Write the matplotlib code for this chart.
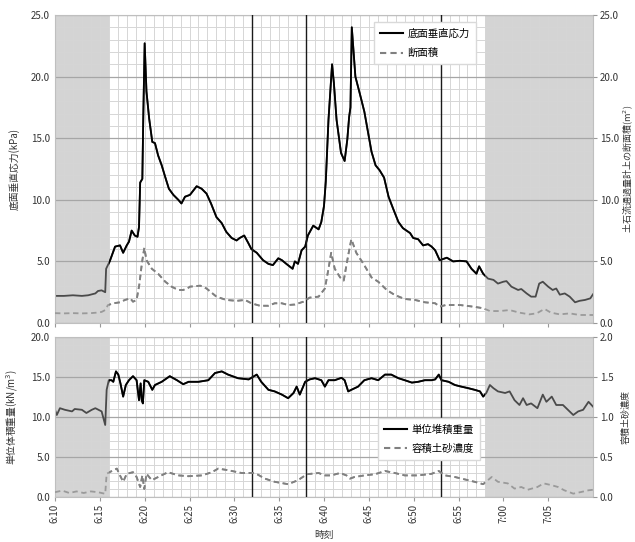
import numpy as np
import matplotlib
matplotlib.use("Agg")
import matplotlib.pyplot as plt
from matplotlib.patches import Rectangle
from matplotlib.lines import Line2D

plt.rcParams['font.family'] = ['Noto Sans CJK JP', 'DejaVu Sans']

# ---- data (time in minutes after 6:10) ----
stress_t = [0, 1, 2, 3, 3.7, 4.5, 4.8, 5.2, 5.6, 5.7, 6.1, 6.7, 7.25, 7.6, 8.0, 8.25, 8.55, 8.9, 9.2,
            9.37, 9.5, 9.74, 9.85, 10.0, 10.2, 10.5, 10.85, 11.15, 11.5, 11.9, 12.27, 12.7, 13.2, 13.75,
            14.1, 14.5, 15.05, 15.8, 16.35, 16.9, 17.4, 18.0, 18.6, 19.1, 19.7, 20.25, 20.6, 21.1, 21.55,
            21.9, 22.5, 23.2, 23.8, 24.3, 24.9, 25.3, 25.8, 26.5, 26.75, 27.1, 27.5, 27.9, 28.2, 28.8,
            29.4, 29.7, 30.0, 30.2, 30.5, 30.9, 31.1, 31.4, 31.9, 32.3, 32.6, 32.8, 32.95, 33.1, 33.5,
            34.0, 34.5, 34.9, 35.3, 35.75, 36.2, 36.7, 37.2, 37.7, 38.3, 38.8, 39.6, 39.95, 40.5, 41.05,
            41.6, 42.0, 42.4, 42.9, 43.7, 44.4, 45.15, 45.9, 46.45, 47.0, 47.3, 47.75, 48.3, 48.9, 49.4,
            50.0, 50.35, 50.9, 51.65, 52.0, 52.6, 53.1, 53.6, 54.0, 54.4, 55.0, 55.5, 55.9, 56.3, 56.85,
            57.4, 58.0, 58.5, 59.1, 59.7, 60.0]
stress_v = [2.2, 2.2, 2.25, 2.2, 2.25, 2.4, 2.6, 2.65, 2.5, 4.4, 5.0, 6.2, 6.3, 5.7, 6.3, 6.6, 7.5, 7.1, 7.0,
            7.8, 11.4, 11.7, 16.9, 22.7, 18.8, 16.6, 14.7, 14.6, 13.6, 12.8, 11.9, 10.9, 10.4, 10.0,
            9.7, 10.25, 10.4, 11.1, 10.9, 10.5, 9.7, 8.6, 8.1, 7.4, 6.9, 6.7, 6.9, 7.1, 6.5,
            6.0, 5.7, 5.1, 4.8, 4.7, 5.25, 5.1, 4.8, 4.4, 5.0, 4.8, 5.9, 6.2, 7.1, 7.9,
            7.6, 8.2, 9.5, 11.5, 16.5, 21.0, 19.5, 16.5, 13.8, 13.15, 14.9, 16.7, 17.5, 24.0, 20.0,
            18.6, 17.15, 15.5, 13.9, 12.8, 12.4, 11.8, 10.25, 9.3, 8.2, 7.7, 7.3, 6.9, 6.8, 6.3,
            6.4, 6.2, 5.9, 5.1, 5.3, 5.0, 5.05, 5.0, 4.4, 4.0, 4.6, 4.0, 3.6, 3.5, 3.2,
            3.35, 3.4, 2.95, 2.68, 2.76, 2.4, 2.14, 2.14, 3.2, 3.35, 2.95, 2.68, 2.8, 2.3, 2.4,
            2.14, 1.68, 1.8, 1.87, 2.0, 2.33]

area_t = [0, 1, 2, 3, 4, 4.8, 5.2, 5.6, 5.9, 6.5, 7.25, 7.8, 8.4, 8.7, 9.1, 9.4, 9.7, 9.96, 10.2, 10.8,
          11.5, 12.3, 13.0, 13.75, 14.3, 14.9, 15.05, 16.2, 16.9, 18.0, 19.1, 20.25, 21.2, 21.9, 22.85,
          23.8, 24.5, 25.3, 26.0, 26.75, 27.7, 28.4, 29.4, 30.1, 30.5, 30.8, 31.2, 31.8, 32.2, 32.7,
          33.05, 33.6, 34.4, 35.3, 36.05, 37.0, 37.9, 39.0, 40.15, 41.25, 42.4, 42.9, 43.6, 44.6, 45.15,
          46.6, 47.75, 48.5, 49.6, 50.7, 51.8, 52.9, 53.7, 54.6, 55.3, 56.3, 57.4, 58.5, 60.0]
area_v = [0.8, 0.78, 0.8, 0.78, 0.8, 0.85, 0.9, 1.05, 1.45, 1.6, 1.68, 1.87, 2.0, 1.73, 1.87, 3.1, 4.9, 6.1,
          5.1, 4.4, 4.0, 3.35, 2.95, 2.68, 2.68, 2.87, 2.95, 3.03, 2.8, 2.14, 1.87, 1.8, 1.87, 1.6, 1.4,
          1.4, 1.6, 1.6, 1.46, 1.5, 1.73, 2.06, 2.14, 2.8, 4.4, 5.7, 4.4, 3.7, 3.45, 5.5,
          6.8, 5.7, 4.8, 3.7, 3.35, 2.68, 2.27, 1.95, 1.87, 1.68, 1.6, 1.33, 1.46, 1.46, 1.46,
          1.33, 1.2, 0.97, 0.97, 1.05, 0.84, 0.7, 0.78, 1.14, 0.84, 0.7, 0.78, 0.65, 0.65]

weight_t = [0, 0.2, 0.55, 1.1, 1.9, 2.2, 3.0, 3.5, 4.1, 4.5, 5.2, 5.6, 5.76, 6.0, 6.3, 6.5, 6.8, 7.06,
            7.3, 7.6, 7.9, 8.25, 8.7, 9.1, 9.37, 9.55, 9.67, 9.8, 9.96, 10.4, 10.85, 11.15, 11.9, 12.8,
            13.6, 14.3, 14.9, 16.0, 17.1, 17.85, 18.6, 19.3, 20.4, 21.6, 22.5, 23.0, 23.8, 24.5, 25.3,
            26.0, 26.6, 26.95, 27.3, 27.9, 28.4, 29.0, 29.7, 30.1, 30.5, 31.2, 31.95, 32.3, 32.7, 33.05,
            33.8, 34.5, 35.3, 36.05, 36.8, 37.5, 38.3, 39.0, 39.8, 40.5, 41.25, 42.0, 42.4, 42.8, 43.1,
            43.9, 44.6, 45.3, 46.1, 46.8, 47.4, 47.75, 48.1, 48.5, 48.9, 49.4, 50.2, 50.7, 51.25, 51.8,
            52.2, 52.6, 53.1, 53.8, 54.4, 54.8, 55.4, 55.9, 56.65, 57.2, 57.8, 58.35, 58.9, 59.5, 60.0]
weight_v = [10.9, 10.25, 11.1, 10.9, 10.7, 11.0, 10.9, 10.5, 10.9, 11.1, 10.7, 9.0, 13.4, 14.6, 14.6, 14.4,
            15.7, 15.3, 14.2, 12.55, 14.0, 14.6, 15.1, 14.6, 12.1, 14.2, 12.1, 11.7, 14.6, 14.4, 13.4,
            14.0, 14.4, 15.1, 14.6, 14.1, 14.4, 14.4, 14.6, 15.5, 15.7, 15.3, 14.85, 14.7, 15.3, 14.4,
            13.4, 13.2, 12.8, 12.35, 13.0, 13.8, 12.8, 14.4, 14.7, 14.85, 14.6, 13.8, 14.6, 14.6, 14.9,
            14.6, 13.2, 13.4, 13.8, 14.6, 14.85, 14.6, 15.3, 15.3, 14.85, 14.6, 14.3, 14.4, 14.6, 14.6,
            14.7, 15.3, 14.6, 14.4, 14.0, 13.8, 13.6, 13.4, 13.2, 12.55, 13.0, 14.0, 13.6, 13.2, 13.0,
            13.2, 12.1, 11.5, 12.35, 11.5, 11.7, 11.1, 12.8, 11.9, 12.55, 11.5, 11.5, 10.9, 10.25,
            10.7, 10.9, 11.9, 11.3]

conc_t = [0, 0.8, 1.6, 2.4, 3.2, 4.0, 4.8, 5.6, 5.76, 6.5, 6.9, 7.25, 7.6, 8.0, 8.7, 9.1, 9.5, 9.74,
          9.96, 10.2, 10.8, 11.5, 12.6, 13.75, 14.9, 16.4, 17.5, 18.2, 19.3, 20.8, 22.3, 23.4, 24.5,
          26.0, 27.1, 28.1, 29.4, 30.1, 30.8, 31.8, 32.5, 32.9, 33.4, 34.5, 35.7, 36.8, 37.9, 39.0,
          40.5, 42.0, 42.8, 43.5, 44.6, 45.7, 46.8, 47.75, 48.7, 49.4, 50.5, 51.25, 52.0, 52.7, 53.8,
          54.5, 55.3, 56.1, 56.8, 57.8, 58.7, 59.5, 60.0]
conc_v = [0.06, 0.08, 0.05, 0.07, 0.05, 0.07, 0.06, 0.04, 0.29, 0.335, 0.355, 0.27, 0.19, 0.29, 0.31,
          0.25, 0.125, 0.27, 0.10, 0.29, 0.21, 0.25, 0.31, 0.27, 0.26, 0.27, 0.31, 0.355, 0.335, 0.30,
          0.30, 0.23, 0.19, 0.16, 0.21, 0.285, 0.30, 0.27, 0.27, 0.30, 0.27, 0.23, 0.25, 0.27, 0.285,
          0.325, 0.30, 0.27, 0.27, 0.29, 0.325, 0.27, 0.25, 0.22, 0.19, 0.16, 0.25, 0.19, 0.17, 0.105,
          0.125, 0.09, 0.125, 0.17, 0.15, 0.125, 0.084, 0.042, 0.063, 0.084, 0.09]

x_ticks = [0, 5, 10, 15, 20, 25, 30, 35, 40, 45, 50, 55]
x_ticklabels = ["6:10", "6:15", "6:20", "6:25", "6:30", "6:35", "6:40", "6:45", "6:50", "6:55",
                "7:00", "7:05"]
event_lines = [22, 28, 43]          # 6:32, 6:38, 6:53
shade_spans = [(0, 6), (48, 60)]    # 6:10-6:16, 6:58-7:10

# ---- figure ----
W, H = 635, 542
fig = plt.figure(figsize=(W / 100, H / 100), dpi=100)
L, R = 55 / W, 593 / W
ax1 = fig.add_axes([L, (H - 323) / H, R - L, (323 - 15) / H])
ax2 = fig.add_axes([L, (H - 497) / H, R - L, (497 - 337) / H])

txt_c = '#333333'
fs = 7


def style(ax, ymax, major, minor):
    ax.set_xlim(0, 60)
    ax.set_ylim(0, ymax)
    ax.set_axisbelow(True)
    ax.set_xticks(np.arange(0, 61, 1), minor=True)
    ax.set_xticks(x_ticks)
    ax.set_yticks(np.arange(0, ymax + 1e-9, major))
    ax.set_yticks(np.arange(0, ymax + 1e-9, minor), minor=True)
    ax.grid(which='minor', color='#d6d6d6', lw=0.7)
    ax.grid(which='major', axis='x', color='#d6d6d6', lw=0.7)
    ax.grid(which='major', axis='y', color='#a6a6a6', lw=0.9)
    for s in ax.spines.values():
        s.set_color('#bfbfbf')
        s.set_linewidth(0.8)
    ax.tick_params(axis='y', which='both', length=0, labelsize=fs, labelcolor=txt_c)
    ax.tick_params(axis='x', which='minor', length=0)
    ax.tick_params(axis='x', which='major', length=3, pad=2, color='#999999', labelsize=fs,
                   labelcolor=txt_c)
    for a, b in shade_spans:
        ax.axvspan(a, b, color='#d4d4d4', zorder=0.3, lw=0)
    for v in event_lines:
        ax.axvline(v, color='#1a1a1a', lw=1.0, zorder=3)


style(ax1, 25, 5, 1)
style(ax2, 20, 5, 1)
ax1.set_yticklabels([f"{v:.1f}" for v in np.arange(0, 25.1, 5)])
ax2.set_yticklabels([f"{v:.1f}" for v in np.arange(0, 20.1, 5)])
ax1.tick_params(axis='x', labelbottom=False)
ax2.set_xticklabels(x_ticklabels, rotation=90)

t1 = ax1.twinx()
t2 = ax2.twinx()
for t, ymax, step in [(t1, 25, 5), (t2, 2.0, 0.5)]:
    t.set_ylim(0, ymax)
    t.set_yticks(np.arange(0, ymax + 1e-9, step))
    t.set_yticklabels([f"{v:.1f}" for v in np.arange(0, ymax + 1e-9, step)])
    t.tick_params(axis='y', length=3, pad=2, color='#999999', labelsize=fs, labelcolor=txt_c)
    for s in t.spines.values():
        s.set_visible(False)


def two_tone(ax, x, y, c_in, c_out, **kw):
    ax.plot(x, y, color=c_out, zorder=2, **kw)
    ln, = ax.plot(x, y, color=c_in, zorder=2.1, **kw)
    ln.set_clip_path(Rectangle((6, -100), 42, 300, transform=ax.transData))


two_tone(ax1, stress_t, stress_v, 'black', '#4a4a4a', lw=1.3)
two_tone(t1, area_t, area_v, '#808080', '#9a9a9a', lw=1.3, ls=(0, (3, 2)))
two_tone(ax2, weight_t, weight_v, 'black', '#4a4a4a', lw=1.3)
two_tone(t2, conc_t, conc_v, '#808080', '#9a9a9a', lw=1.3, ls=(0, (3, 2)))
t1.set_xlim(0, 60)
t2.set_xlim(0, 60)

ax1.set_ylabel("底面垂直応力(kPa)", fontsize=fs, color=txt_c)
ax1.yaxis.set_label_coords(-0.065, 0.5)
t1.set_ylabel("土石流通過量計上の断面積(m$^2$)", fontsize=6.5, color=txt_c, rotation=90)
t1.yaxis.set_label_coords(1.053, 0.5)
ax2.set_ylabel("単位体積重量(kN/m$^3$)", fontsize=fs, color=txt_c)
ax2.yaxis.set_label_coords(-0.065, 0.5)
t2.set_ylabel("容積土砂濃度", fontsize=6.5, color=txt_c, rotation=90)
t2.yaxis.set_label_coords(1.053, 0.5)
ax2.set_xlabel("時刻", fontsize=fs, color=txt_c)
ax2.xaxis.set_label_coords(0.5, -0.205)

h_solid = Line2D([], [], color='black', lw=1.5)
h_dash = Line2D([], [], color='#808080', lw=1.5, ls=(0, (3, 2)))
leg1 = t1.legend([h_solid, h_dash], ["底面垂直応力", "断面積"], loc='upper left',
                 bbox_to_anchor=((369 - 55) / 538, 1 - (17 - 15) / 308), fontsize=7.5,
                 frameon=True, fancybox=False, edgecolor='#d9d9d9', framealpha=1,
                 handlelength=2.2, labelspacing=0.9, borderpad=0.6, handletextpad=0.4)
leg1.set_zorder(5)
leg2 = t2.legend([h_solid, h_dash], ["単位堆積重量", "容積土砂濃度"], loc='upper left',
                 bbox_to_anchor=((373 - 55) / 538, 1 - (413 - 337) / 160), fontsize=7.5,
                 frameon=True, fancybox=False, edgecolor='#d9d9d9', framealpha=1,
                 handlelength=2.2, labelspacing=0.9, borderpad=0.6, handletextpad=0.4)
leg2.set_zorder(5)

fig.savefig("out.png", dpi=100)
